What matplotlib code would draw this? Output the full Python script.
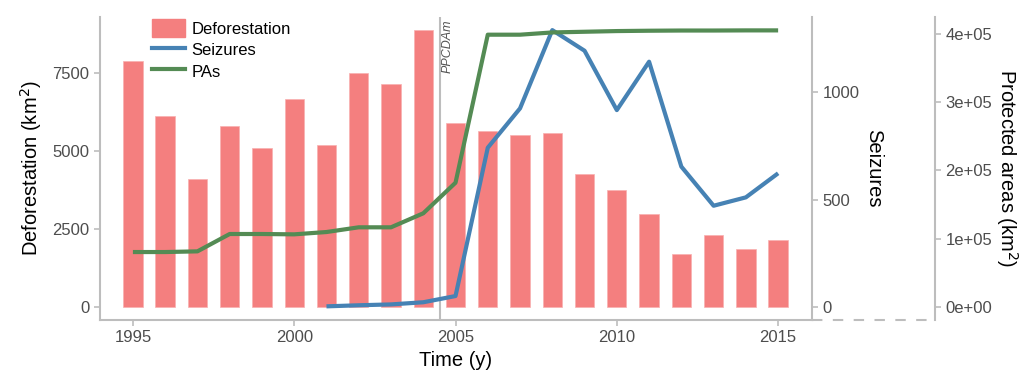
import matplotlib.pyplot as plt
from matplotlib.lines import Line2D
from matplotlib.patches import Patch
from matplotlib.ticker import FuncFormatter

plt.rcParams['font.family'] = ['Liberation Sans', 'DejaVu Sans']

# data
years = list(range(1995, 2016))
deforestation = [7894, 6112, 4112, 5811, 5096, 6657, 5202, 7490, 7138, 8868,
                 5888, 5641, 5513, 5577, 4263, 3750, 2990, 1708, 2308, 1869, 2147]
seizure_years = list(range(2001, 2016))
seizures = [3, 8, 12, 22, 51, 741, 924, 1288, 1192, 916, 1141, 653, 471, 510, 622]
protected = [80500, 80500, 81500, 106900, 106900, 106400, 109800, 116700, 116700,
             137200, 182000, 398700, 398700, 402000, 403000, 404000, 404500,
             404800, 404800, 405000, 405000]

grey = '#bdbdbd'
tick_grey = '#4d4d4d'
bar_col = '#F47F7F'
W, H = 1027, 372

fig = plt.figure(figsize=(W / 100, H / 100), dpi=100)
ax = fig.add_axes([100 / W, 1 - 320 / H, (812 - 100) / W, (320 - 17) / H])
ax2 = ax.twinx()
ax3 = ax.twinx()

ax.bar(years, deforestation, width=0.6, color=bar_col, edgecolor='#F8B0B0',
       linewidth=0.5, zorder=1)
ax.axvline(2004.52, color=grey, lw=1.5, zorder=2)
ax.text(2004.74, 9200, 'PPCDAm', rotation=90, style='italic', fontsize=9,
        color='#555555', ha='center', va='top')

ax2.plot(seizure_years, seizures, color='#4682B4', lw=3, solid_capstyle='butt')
ax3.plot(years, protected, color='#548B54', lw=3, solid_capstyle='butt')

ax.set_xlim(1993.98, 2016.05)
ax.set_ylim(-417, 9295)
ax2.set_ylim(-60.5, 1349)
ax3.set_ylim(-19000, 424600)

ax.set_xticks([1995, 2000, 2005, 2010, 2015])
ax.set_yticks([0, 2500, 5000, 7500])
ax2.set_yticks([0, 500, 1000])
ax3.set_yticks([0, 100000, 200000, 300000, 400000])
ax3.yaxis.set_major_formatter(FuncFormatter(lambda v, p: '%de+05' % (v / 1e5) if v else '0e+00'))

for a in (ax, ax2, ax3):
    for s in a.spines.values():
        s.set_visible(False)
    a.tick_params(colors=grey, labelcolor=tick_grey, labelsize=12, length=4, width=1.2)

ax.spines['left'].set_visible(True)
ax.spines['bottom'].set_visible(True)
ax2.spines['right'].set_visible(True)
ax3.spines['right'].set_visible(True)
ax3.spines['right'].set_position(('axes', (935 - 100) / (812 - 100)))
for s in (ax.spines['left'], ax.spines['bottom'], ax2.spines['right'], ax3.spines['right']):
    s.set_color(grey)
    s.set_linewidth(1.5)

# bring lines above the bars
ax.set_zorder(1)
ax2.set_zorder(2)
ax3.set_zorder(3)
ax2.patch.set_visible(False)
ax3.patch.set_visible(False)

fig.add_artist(Line2D([812 / W, 935 / W], [1 - 320 / H, 1 - 320 / H], color=grey,
                      lw=1.5, ls=(0, (5, 5))))

ax.set_xlabel('Time (y)', fontsize=14.5, labelpad=4)
ax.set_ylabel('Deforestation (km$^2$)', fontsize=14.5, labelpad=6)
ax2.set_ylabel('Seizures', fontsize=14.5, rotation=-90, labelpad=17)
ax3.set_ylabel('Protected areas (km$^2$)', fontsize=14.5, rotation=-90, labelpad=20)

handles = [Patch(color=bar_col),
           Line2D([0], [0], color='#4682B4', lw=3),
           Line2D([0], [0], color='#548B54', lw=3)]
ax3.legend(handles, ['Deforestation', 'Seizures', 'PAs'], loc='upper left',
           bbox_to_anchor=(0.064, 1.015), frameon=False, fontsize=12,
           handlelength=1.95, handleheight=1.3, handletextpad=0.4,
           labelspacing=0.2, borderaxespad=0.0)

fig.savefig('out.png', dpi=100)
